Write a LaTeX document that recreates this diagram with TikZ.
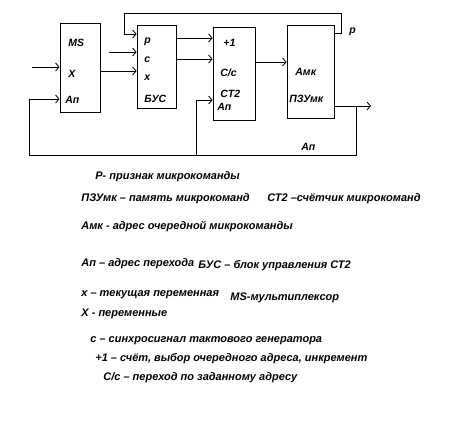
\documentclass[tikz,border=0pt]{standalone}
\usepackage{fontspec}
\setmainfont{Liberation Sans}
\usetikzlibrary{arrows.meta}
\tikzset{
  blk/.style = {rectangle, draw=black, inner sep=0pt},% bloc
  lbl/.style = {anchor=west, inner sep=0pt, font=\fontsize{10.5}{12}\selectfont\bfseries\itshape},
  txt/.style = {anchor=west, inner sep=0pt, font=\fontsize{11}{13}\selectfont\bfseries\itshape},
  arr/.style = {-{Straight Barb[length=3.5pt,width=8pt]}},
  }
\begin{document}
\begin{tikzpicture}[x=1pt,y=-1pt,line width=0.8pt]
  \useasboundingbox (0,0) rectangle (464,429);

  \node[blk, minimum width=40pt, minimum height=89pt] (ms) at (80,67.5) {};
  \node[blk, minimum width=39pt, minimum height=83pt] (bus) at (156.5,66.5) {};
  \node[blk, minimum width=42pt, minimum height=93pt] (ct) at (234,73.5) {};
  \node[blk, minimum width=47pt, minimum height=93pt] (pzu) at (310.5,71.5) {};

  % labels in the blocs
  \node[lbl] (msl) at (68,43) {MS};
  \node[lbl] (msx) at (68,74) {X};
  \node[lbl] (msa) at (65,100) {Ап};
  \node[lbl] (busp) at (144,42) {p};
  \node[lbl] (busc) at (144,60) {c};
  \node[lbl] (busx) at (144,78) {x};
  \node[lbl] (busl) at (144,99) {БУС};
  \node[lbl] (ctp) at (223,43) {+1};
  \node[lbl] (ctc) at (220,73) {C/c};
  \node[lbl] (ctl) at (220,94) {CT2};
  \node[lbl] (cta) at (217,107) {Ап};
  \node[lbl] (pzua) at (295,72) {Амк};
  \node[lbl] (pzul) at (289,99) {ПЗУмк};
  \node[lbl] (pl) at (349,32) {p};
  \node[lbl] (al) at (301,147) {Ап};

  \coordinate (xin) at (32,67);
  \coordinate (cin) at (109,52);
  \coordinate (out) at (371,106);

  % forward
  \draw[arr] (xin) -- (xin -| ms.west);
  \draw[arr] (cin) -- (cin -| bus.west);
  \draw[arr] (ms.east |- 0,71) -- (bus.west |- 0,71);
  \draw[arr] (bus.east |- 0,38) -- (ct.west |- 0,38);
  \draw[arr] (bus.east |- 0,59) -- (ct.west |- 0,59);
  \draw[arr] (ct.east |- 0,62) -- (pzu.west |- 0,62);
  \draw[arr] (pzu.east |- out) -- (out);
  % feedback
  \draw[arr] (pzu.east |- 0,33) -- (341,33) -- (341,13) -- (124,13) -- (124,34) -- (bus.west |- 0,34);
  \draw[arr] (356,106) -- (356,155) -- (29,155) -- (29,99) -- (ms.west |- 0,99);
  \draw[arr] (196,155) -- (196,100) -- (ct.west |- 0,100);

  % legend
  \node[txt] (t1) at (95,177) {Р- признак микрокоманды};
  \node[txt] (t2) at (81,199) {ПЗУмк – память микрокоманд};
  \node[txt] (t3) at (267,199) {СТ2 –счётчик микрокоманд};
  \node[txt] (t4) at (81,227) {Амк - адрес очередной микрокоманды};
  \node[txt] (t5) at (81,264) {Ап – адрес перехода};
  \node[txt] (t6) at (198,266) {БУС – блок управления СТ2};
  \node[txt] (t7) at (81,295) {х – текущая переменная};
  \node[txt] (t8) at (230,298) {MS-мультиплексор};
  \node[txt] (t9) at (81,314) {Х - переменные};
  \node[txt] (t10) at (90,341) {с – синхросигнал тактового генератора};
  \node[txt] (t11) at (95,359) {+1 – счёт, выбор очередного адреса, инкремент};
  \node[txt] (t12) at (103,378) {С/с – переход по заданному адресу};
\end{tikzpicture}
\end{document}
